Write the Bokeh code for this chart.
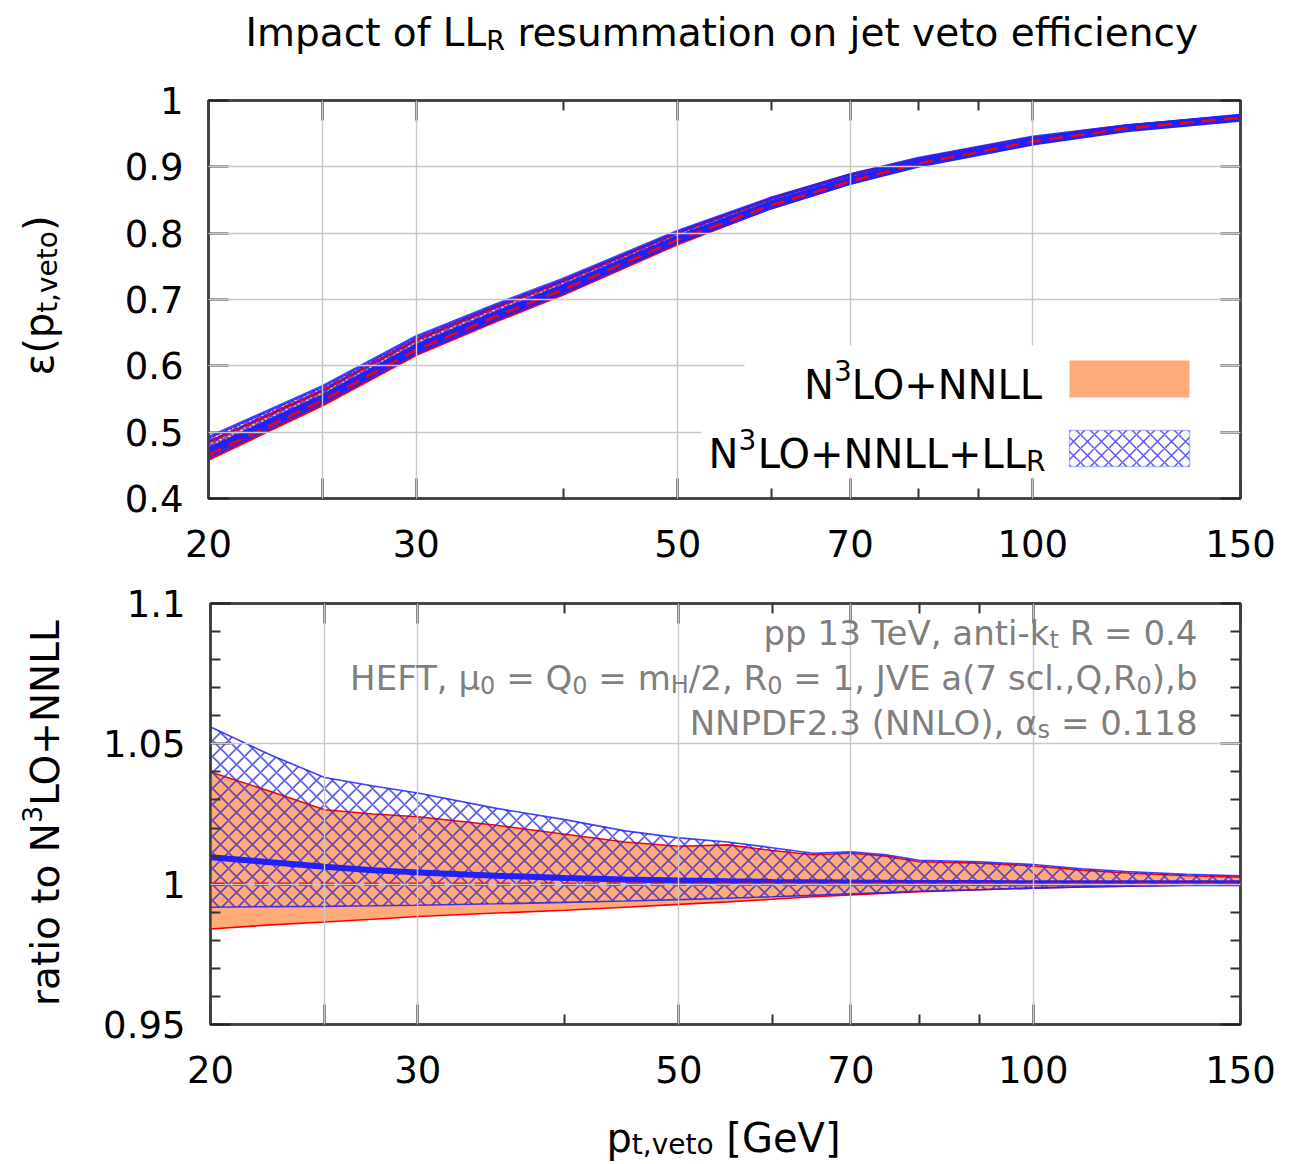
import math
from bokeh.plotting import figure
from bokeh.layouts import column, row
from bokeh.models import (Range1d, FixedTicker, LogAxis, LinearAxis, Label, BoxAnnotation,
                          CustomLabelingPolicy)
from bokeh.embed import file_html
from bokeh.resources import INLINE

FONT = "DejaVu Sans"

# ---------------- data ----------------
pt_eff = [20, 25, 30, 35, 40, 50, 60, 70, 80, 100, 120, 150]
eff_nnll_central = [0.466, 0.548, 0.624, 0.674, 0.715, 0.790, 0.842, 0.878, 0.905, 0.938, 0.958, 0.974]
eff_nnll_low = [0.459, 0.541, 0.617, 0.667, 0.708, 0.784, 0.838, 0.875, 0.903, 0.937, 0.957, 0.974]
eff_nnll_high = [0.485, 0.563, 0.639, 0.688, 0.728, 0.801, 0.852, 0.888, 0.912, 0.944, 0.962, 0.976]
eff_llr_central = [0.471, 0.551, 0.627, 0.676, 0.717, 0.791, 0.843, 0.879, 0.905, 0.938, 0.958, 0.974]
eff_llr_low = [0.462, 0.544, 0.619, 0.669, 0.710, 0.786, 0.838, 0.875, 0.903, 0.937, 0.957, 0.974]
eff_llr_high = [0.492, 0.569, 0.644, 0.692, 0.731, 0.803, 0.853, 0.888, 0.913, 0.945, 0.962, 0.977]

pt_ratio = [20, 22.5, 25, 27.5, 30, 35, 40, 45, 50, 55, 60, 65, 70, 75, 80, 90, 100, 110, 120, 135, 150]
ratio_nnll_central = [1.0, 1.0, 1.0, 1.0, 1.0, 1.0, 1.0, 1.0, 1.0, 1.0, 1.0,
                      1.0, 1.0, 1.0, 1.0, 1.0, 1.0, 1.0, 1.0, 1.0, 1.0]
ratio_nnll_low = [0.984, 0.9855, 0.9865, 0.9875, 0.9885, 0.9897, 0.9907, 0.9918, 0.9928, 0.9937, 0.9946,
                  0.9955, 0.9962, 0.9968, 0.9973, 0.998, 0.9986, 0.999, 0.9993, 0.9996, 0.9998]
ratio_nnll_high = [1.040, 1.033, 1.0265, 1.025, 1.024, 1.021, 1.0178, 1.015, 1.0135, 1.014, 1.012,
                   1.0105, 1.011, 1.010, 1.008, 1.0075, 1.0065, 1.005, 1.004, 1.003, 1.0025]
ratio_llr_central = [1.0096, 1.0078, 1.0062, 1.005, 1.0042, 1.003, 1.0022, 1.0017, 1.0013, 1.001, 1.0008,
                     1.0007, 1.0006, 1.0005, 1.0004, 1.0004, 1.0003, 1.0003, 1.0003, 1.0003, 1.0003]
ratio_llr_low = [0.9918, 0.992, 0.9921, 0.9923, 0.9925, 0.993, 0.9935, 0.994, 0.9945, 0.995, 0.9955,
                 0.996, 0.9966, 0.997, 0.9975, 0.998, 0.9986, 0.999, 0.9993, 0.9996, 0.9998]
ratio_llr_high = [1.056, 1.046, 1.038, 1.035, 1.0325, 1.027, 1.023, 1.019, 1.0165, 1.015, 1.013,
                  1.011, 1.0115, 1.0105, 1.0085, 1.008, 1.007, 1.0055, 1.0045, 1.0035, 1.003]

x_ticks = [20, 25, 30, 50, 70, 100, 150]
x_tick_labels = ["20", "", "30", "50", "70", "100", "150"]
x_minor_ticks = [40, 60, 80, 90]
x_grid = [25, 30, 50, 70, 100]

eff_ticks = [0.4, 0.5, 0.6, 0.7, 0.8, 0.9, 1.0]
eff_tick_labels = ["0.4", "0.5", "0.6", "0.7", "0.8", "0.9", "1"]
eff_grid = [0.5, 0.6, 0.7, 0.8, 0.9]
ratio_ticks = [0.95, 1.0, 1.05, 1.1]
ratio_tick_labels = ["0.95", "1", "1.05", "1.1"]
ratio_minor_ticks = [0.96, 0.97, 0.98, 0.99, 1.01, 1.02, 1.03, 1.04, 1.06, 1.07, 1.08, 1.09]
ratio_grid = [1.0, 1.05]

# rich texts: (text, kind) with kind n = normal, sub = subscript, sup = superscript
title_text = [("Impact of LL", "n"), ("R", "sub"), (" resummation on jet veto efficiency", "n")]
legend_nnll = [("N", "n"), ("3", "sup"), ("LO+NNLL", "n")]
legend_llr = [("N", "n"), ("3", "sup"), ("LO+NNLL+LL", "n"), ("R", "sub")]
ylabel_top = [("ε(p", "n"), ("t,veto", "sub"), (")", "n")]
ylabel_bot = [("ratio to N", "n"), ("3", "sup"), ("LO+NNLL", "n")]
xlabel = [("p", "n"), ("t,veto", "sub"), (" [GeV]", "n")]
info_lines = [
    [("pp 13 TeV, anti-k", "n"), ("t", "sub"), (" R = 0.4", "n")],
    [("HEFT, μ", "n"), ("0", "sub"), (" = Q", "n"), ("0", "sub"), (" = m", "n"), ("H", "sub"),
     ("/2, R", "n"), ("0", "sub"), (" = 1, JVE a(7 scl.,Q,R", "n"), ("0", "sub"), ("),b", "n")],
    [("NNPDF2.3 (NNLO), α", "n"), ("s", "sub"), (" = 0.118", "n")],
]

# ---------------- style ----------------
ORANGE = "#ffaa78"
RED = "#ff0000"
BLUE = "#2020ff"
GRID = "#c8c8c8"
FRAME = "#404040"
GRAY = "#7f7f7f"
BASE_FIX = 13  # Bokeh draws "alphabetic" labels this much lower than the anchor

# DejaVu Sans advance widths (em) used to chain text pieces
DV = {' ': .318, '\u00a0': .318, '(': .390, ')': .390, '+': .838, ',': .318, '-': .361, '.': .318,
      '/': .337, '=': .838, '[': .390, ']': .390, 'μ': .636, 'α': .659, 'ε': .541,
      'A': .684, 'B': .686, 'C': .698, 'D': .770, 'E': .632, 'F': .575, 'G': .775, 'H': .752,
      'I': .295, 'J': .295, 'K': .656, 'L': .557, 'M': .863, 'N': .748, 'O': .787, 'P': .603,
      'Q': .787, 'R': .695, 'S': .635, 'T': .611, 'U': .732, 'V': .684, 'W': .989, 'X': .685,
      'Y': .611, 'Z': .685,
      'a': .613, 'b': .635, 'c': .550, 'd': .635, 'e': .615, 'f': .352, 'g': .635, 'h': .634,
      'i': .278, 'j': .278, 'k': .579, 'l': .278, 'm': .974, 'n': .634, 'o': .612, 'p': .635,
      'q': .635, 'r': .411, 's': .521, 't': .392, 'u': .634, 'v': .592, 'w': .818, 'x': .592,
      'y': .592, 'z': .525}
for _d in "0123456789":
    DV[_d] = .636


def tw(s, size):
    return sum(DV.get(c, .6) for c in s) * size


def keep_spaces(t):
    # leading / trailing blanks would be collapsed by SVG: use no-break spaces there
    n_lead = len(t) - len(t.lstrip(" "))
    n_trail = len(t) - len(t.rstrip(" "))
    core = t.strip(" ")
    return "\u00a0" * n_lead + core + "\u00a0" * n_trail


def chain(p, pieces, x, y, size, small, color="black", align="left", rotated=False, drop=8, rise=13):
    ws = [tw(t, size if k == "n" else small) for t, k in pieces]
    total = sum(ws)
    pos = (y if rotated else x) + {"left": 0.0, "center": -total / 2, "right": -total}[align]
    for i, ((t, k), w) in enumerate(zip(pieces, ws)):
        off = {"n": 0, "sub": -drop, "sup": rise}[k] + BASE_FIX
        fs = size if k == "n" else small
        # a normal piece followed by a sub/superscript is anchored at its end,
        # so that the script sits right against it
        attach = k == "n" and i + 1 < len(pieces) and pieces[i + 1][1] != "n"
        along = pos + w if attach else pos
        if rotated:
            lx, ly, ang = x - off, along, math.pi / 2
        else:
            lx, ly, ang = along, y + off, 0.0
        p.add_layout(Label(x=lx, y=ly, x_units="screen", y_units="screen", text=keep_spaces(t),
                           text_font=FONT, text_font_size=f"{fs}px", text_color=color,
                           text_align="right" if attach else "left",
                           text_baseline="alphabetic", angle=ang))
        pos += w


NO_LABELS = CustomLabelingPolicy(code="for (const i of indices) { indices.unset(i) }; return indices")


def style_axis(ax, ticks, labels, minor, show):
    ax.ticker = FixedTicker(ticks=ticks, minor_ticks=minor)
    ax.major_tick_in = 20
    ax.major_tick_out = 0
    ax.minor_tick_in = 10
    ax.minor_tick_out = 0
    ax.major_tick_line_width = 2.2
    ax.minor_tick_line_width = 2
    ax.major_tick_line_color = "#222222"
    ax.minor_tick_line_color = "#333333"
    ax.axis_line_color = FRAME
    ax.axis_line_width = 2.5
    ax.major_label_text_font = FONT
    ax.major_label_text_color = "black"
    ax.major_label_text_font_size = "37px"
    ax.axis_label = None
    if show:
        ax.major_label_overrides = {t: l for t, l in zip(ticks, labels)}
    else:
        ax.major_label_overrides = {t: "" for t in ticks}
        ax.major_label_policy = NO_LABELS
        ax.major_label_standoff = 0


TOTAL_W = 1293
SIDE_W = 100
FRAME_L = 208
FRAME_R = 1240
FRAME_W = FRAME_R - FRAME_L


def make_fig(height, yr, btop, bbot, yticks, ylabels, yminor, ygrid):
    p = figure(width=TOTAL_W - SIDE_W, height=height, x_axis_type="log",
               x_range=Range1d(20, 150), y_range=Range1d(*yr),
               output_backend="svg", toolbar_location=None,
               min_border_left=FRAME_L - SIDE_W, min_border_right=TOTAL_W - FRAME_R,
               min_border_top=btop, min_border_bottom=bbot)
    p.outline_line_color = FRAME
    p.outline_line_width = 2.5
    p.background_fill_color = "white"
    p.border_fill_color = "white"
    xa = p.xaxis[0]
    style_axis(xa, x_ticks, x_tick_labels, x_minor_ticks, True)
    xa.major_label_standoff = 31
    ya = p.yaxis[0]
    style_axis(ya, yticks, ylabels, yminor, True)
    ya.major_label_standoff = 25
    ta = LogAxis()
    style_axis(ta, x_ticks, x_tick_labels, x_minor_ticks, False)
    p.add_layout(ta, "above")
    ra = LinearAxis()
    style_axis(ra, yticks, ylabels, yminor, False)
    p.add_layout(ra, "right")
    p.xgrid.ticker = FixedTicker(ticks=x_grid)
    p.ygrid.ticker = FixedTicker(ticks=ygrid)
    for g in (p.xgrid[0], p.ygrid[0]):
        g.grid_line_color = GRID
        g.grid_line_width = 1.4
        g.level = "guide"
    return p


def helper(w, h):
    f = figure(width=w, height=h, x_range=Range1d(0, w), y_range=Range1d(0, h),
               output_backend="svg", toolbar_location=None, min_border=0,
               x_axis_location=None, y_axis_location=None)
    f.outline_line_color = None
    f.grid.visible = False
    f.background_fill_color = "white"
    f.border_fill_color = "white"
    return f


def draw_bands(p, x, nlo, nhi, nc, llo, lhi, lc, edge_w, central_w, hscale, dash_w):
    p.varea(x=x, y1=nlo, y2=nhi, fill_color=ORANGE, fill_alpha=1.0)
    p.line(x, nlo, line_color=RED, line_width=edge_w)
    p.line(x, nhi, line_color=RED, line_width=edge_w)
    p.varea(x=x, y1=llo, y2=lhi, fill_alpha=0.0, hatch_pattern="x",
            hatch_color=BLUE, hatch_alpha=0.75, hatch_scale=hscale, hatch_weight=1.6)
    p.line(x, llo, line_color=BLUE, line_width=edge_w, line_alpha=0.85)
    p.line(x, lhi, line_color=BLUE, line_width=edge_w, line_alpha=0.85)
    p.line(x, lc, line_color=BLUE, line_width=central_w)
    p.line(x, nc, line_color=RED, line_width=dash_w, line_dash="14 8")


def sbox(p, left, right, bottom, top, **kw):
    p.add_layout(BoxAnnotation(left=left, right=right, bottom=bottom, top=top,
                               left_units="screen", right_units="screen",
                               top_units="screen", bottom_units="screen", **kw))


# ---------------- title row (page y 0..70) ----------------
TITLE_H = 70
title_fig = helper(TOTAL_W, TITLE_H)
chain(title_fig, title_text, 722, TITLE_H - 45, 39, 27, align="center", drop=8)

# ---------------- top panel (page y 70..580) ----------------
TOP_Y0, TOP_H = TITLE_H, 510
TOP_FRAME_TOP, TOP_FRAME_BOT = 100, 498
top = make_fig(TOP_H, (0.4, 1.0), TOP_FRAME_TOP - TOP_Y0, TOP_Y0 + TOP_H - TOP_FRAME_BOT,
               eff_ticks, eff_tick_labels, [], eff_grid)
draw_bands(top, pt_eff, eff_nnll_low, eff_nnll_high, eff_nnll_central,
           eff_llr_low, eff_llr_high, eff_llr_central, 3, 8, 6, 2.5)


def ty(py):
    return TOP_FRAME_BOT - py


def fx(px):
    return px - FRAME_L


# legend (white background, swatches, texts)
sbox(top, fx(744), FRAME_W - 21, ty(400), ty(345), fill_color="white", fill_alpha=1.0,
     line_color=None, level="guide")
sbox(top, fx(701), FRAME_W - 21, ty(477), ty(400), fill_color="white", fill_alpha=1.0,
     line_color=None, level="guide")
sbox(top, fx(1069), fx(1189), ty(397), ty(360), fill_color=ORANGE, fill_alpha=1.0, line_color=None)
sbox(top, fx(1069), fx(1189), ty(466), ty(430), fill_color="white", fill_alpha=1.0,
     line_color=BLUE, line_width=1.5, hatch_pattern="x", hatch_color=BLUE, hatch_alpha=0.75,
     hatch_scale=14, hatch_weight=1.5)
chain(top, legend_nnll, fx(1043), ty(397), 40, 28, align="right", rise=14)
chain(top, legend_llr, fx(1045), ty(466), 40, 28, align="right", rise=14, drop=8)

# y label of the top panel (its frame is aligned with the top panel's frame)
ylab_top = helper(SIDE_W, TOP_H)
chain(ylab_top, ylabel_top, 51, TOP_FRAME_BOT - 295, 40, 28, align="center", rotated=True, drop=9)

# ---------------- bottom panel (page y 580..1100) ----------------
BOT_Y0, BOT_H = TOP_Y0 + TOP_H, 520
BOT_FRAME_TOP, BOT_FRAME_BOT = 603, 1024
bot = make_fig(BOT_H, (0.95, 1.1), BOT_FRAME_TOP - BOT_Y0, BOT_Y0 + BOT_H - BOT_FRAME_BOT,
               ratio_ticks, ratio_tick_labels, ratio_minor_ticks, ratio_grid)
draw_bands(bot, pt_ratio, ratio_nnll_low, ratio_nnll_high, ratio_nnll_central,
           ratio_llr_low, ratio_llr_high, ratio_llr_central, 1.6, 6, 16, 3.5)


def by(py):
    return BOT_FRAME_BOT - py


for line, base in zip(info_lines, [645, 690, 735]):
    chain(bot, line, fx(1195), by(base), 34, 24, color=GRAY, align="right", drop=7)

ylab_bot = helper(SIDE_W, BOT_H)
chain(ylab_bot, ylabel_bot, 58, BOT_FRAME_BOT - 812, 39, 27, align="center", rotated=True, rise=14)

# ---------------- x label row (page y 1100..1164) ----------------
XL_Y0, XL_H = BOT_Y0 + BOT_H, 64
xlab_fig = helper(TOTAL_W, XL_H)
chain(xlab_fig, xlabel, 723, XL_Y0 + XL_H - 1150, 40, 28, align="center", drop=7)

layout = column(title_fig, row(ylab_top, top), row(ylab_bot, bot), xlab_fig)
open("out.html", "w").write(file_html(layout, INLINE))
